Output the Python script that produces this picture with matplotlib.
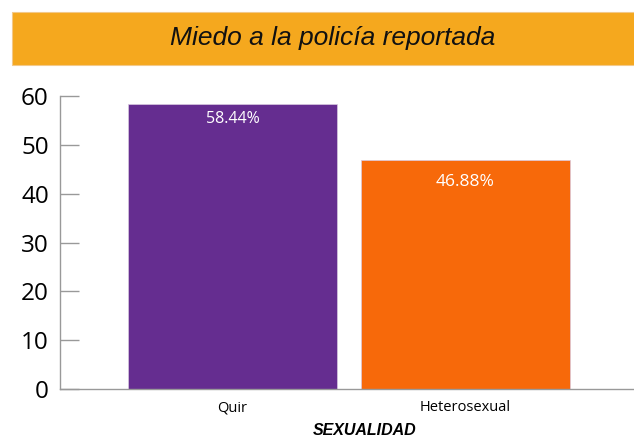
import matplotlib
matplotlib.use('Agg')
import matplotlib.pyplot as plt
from matplotlib.patches import Rectangle

categories = ['Quir', 'Heterosexual']
values = [58.44, 46.88]
labels = ['58.44%', '46.88%']
colors = ['#652D90', '#F7690A']
yticks = [0, 10, 20, 30, 40, 50, 60]

fig = plt.figure(figsize=(6.34, 4.41), dpi=100)

# orange title banner
fig.patches.append(Rectangle((0.019, 0.853), 0.99, 0.12, transform=fig.transFigure,
                             facecolor='#F5A81E', edgecolor='#F3C98A', lw=0.8, zorder=0))
fig.text(0.524, 0.913, 'Miedo a la policía reportada', ha='center', va='center',
         fontsize=19, style='italic', family='Liberation Sans', color='#111111')

ax = fig.add_axes([0.0946, 0.1179, 0.9054, 0.6644])
x = range(len(categories))
bars = ax.bar(x, values, width=0.897, color=colors, edgecolor='#d9c9e0', linewidth=0.5, zorder=2)

offsets = [3.2, 4.4]
sizes = [11.5, 12.5]
for b, lab, off, fs in zip(bars, labels, offsets, sizes):
    ax.text(b.get_x() + b.get_width() / 2, b.get_height() - off, lab,
            ha='center', va='center', color='white', fontsize=fs, family='Open Sans')

ax.set_xlim(-0.740, 1.723)
ax.set_ylim(0, 60)
ax.set_yticks(yticks)
ax.set_yticklabels([str(t) for t in yticks], fontsize=17.5, family='Open Sans')
ax.set_xticks(list(x))
ax.set_xticklabels(categories, fontsize=10.5, family='Open Sans')
ax.tick_params(axis='y', direction='in', length=14, color='#999999', width=1, pad=8)
ax.tick_params(axis='x', length=0, pad=8)

for s in ['top', 'right']:
    ax.spines[s].set_visible(False)
for s in ['left', 'bottom']:
    ax.spines[s].set_color('#999999')
    ax.spines[s].set_linewidth(1)

ax.set_xlabel('SEXUALIDAD', fontsize=11.5, fontweight='bold', style='italic',
              family='Liberation Sans')
ax.xaxis.set_label_coords(0.53, -0.115)

fig.savefig('out.png', dpi=100)
